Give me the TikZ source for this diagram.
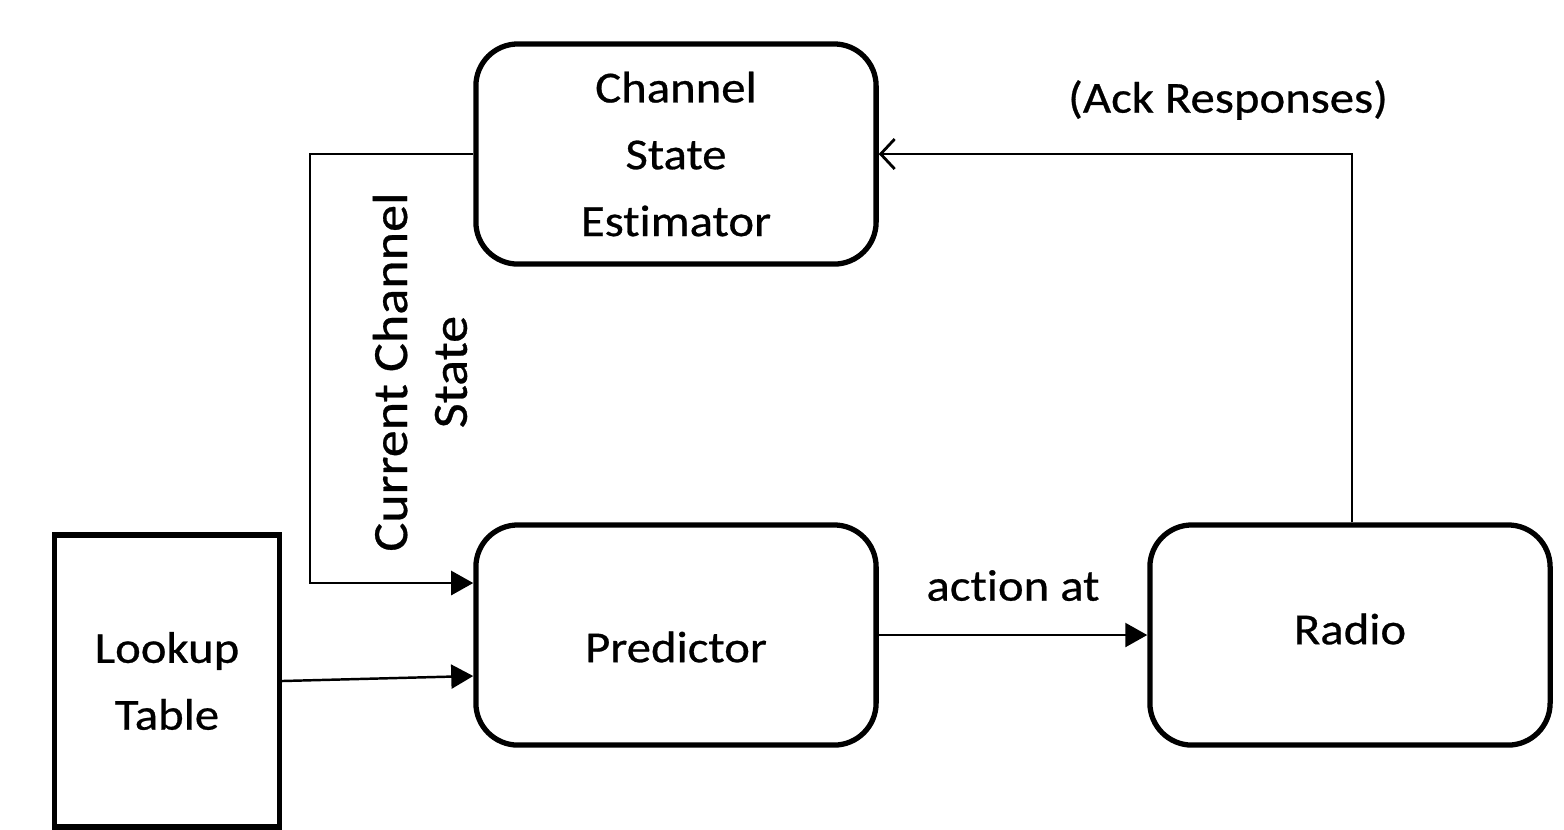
\documentclass[tikz,border=0pt]{standalone}
\usepackage{fontspec}
\setmainfont{Carlito}[FakeStretch=1.1,FakeBold=0.6,Ligatures=NoCommon]
\usetikzlibrary{arrows.meta,calc}
\begin{document}
\begin{tikzpicture}[x=0.01cm,y=-0.01cm,font=\fontsize{12.6}{19}\selectfont]
%===STYLES====
\tikzset{block/.style ={draw, line width=1.5pt, rounded corners=0.42cm, minimum width=4cm, minimum height=2.2cm, align=center},
 table/.style ={draw, line width=1.5pt, minimum width=2.25cm, minimum height=2.92cm, align=center},
 wire/.style ={line width=0.7pt},
 fill arrow/.style ={wire, -{Triangle[length=0.22cm,width=0.24cm]}},
 open arrow/.style ={wire, -{Straight Barb[length=0.14cm,width=0.3cm,line width=0.8pt]}}}
\useasboundingbox (0,0) rectangle (1564,829);
%===blocks===
\node[block] (est) at (676,154) {Channel\\State\\Estimator};
\node[block] (pred) at (676,635) {};
\node[block] (radio) at (1350,635) {};
\node[table] (look) at (167,681) {Lookup\\Table};
%===block texts===
\node (predtxt) at ($(pred)+(0,12)$) {Predictor};
\node (radiotxt) at ($(radio)+(0,-6)$) {Radio};
%===corners===
\coordinate (k1) at (310,154);
\coordinate (k2) at (310,583);
\coordinate (k3) at (1352,154);
%===connections===
\draw[fill arrow] (est.west) -- (k1) -- (k2) -- (pred.west |- k2);
\draw[fill arrow] (look.east) -- ($(pred.west)+(0,41)$);
\draw[fill arrow] (pred.east) -- (radio.west) node[midway, above=6pt] {action at};
\draw[open arrow] (radio.north -| k3) -- (k3) -- (est.east);
%===labels===
\node[rotate=90, align=center, font=\fontsize{14}{17}\selectfont] (cur) at (420,372) {Current Channel\\State};
\node (ack) at (1228,100) {(Ack Responses)};
\end{tikzpicture}
\end{document}
